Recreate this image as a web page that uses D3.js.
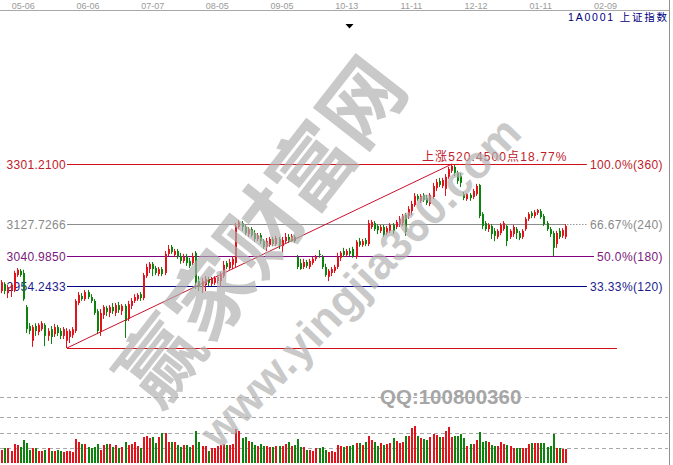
<!DOCTYPE html>
<html><head><meta charset="utf-8">
<script src="https://cdn.jsdelivr.net/npm/d3@7/dist/d3.min.js"></script>
<style>html,body{margin:0;padding:0;background:#fff;overflow:hidden}svg{display:block}</style>
</head><body>
<script>
// ---------- data ----------
const dateTicks = ["05-06","06-06","07-07","08-05","09-05","10-13","11-11","12-12","01-11","02-09"];
const tickIndex = [6,27,48,69,90,111,132,153,174,195];
// rows: [open, high, low, close]
const ohlc = [
[2942,2973,2936,2967],[2962,2967,2933,2942],[2936,2959,2922,2953],[2942,2965,2925,2959],[2945,2999,2939,2993],
[2987,3007,2982,3002],[2999,3004,2982,2987],[2993,3002,2914,2919],[2897,2902,2823,2834],[2843,2851,2820,2829],
[2801,2846,2784,2840],[2843,2851,2815,2829],[2826,2851,2817,2846],[2834,2857,2829,2851],[2846,2851,2786,2815],
[2815,2837,2801,2829],[2834,2843,2792,2812],[2820,2849,2812,2840],[2840,2846,2815,2823],[2829,2837,2806,2815],
[2815,2840,2806,2834],[2801,2837,2780.76,2829],[2812,2834,2795,2829],[2817,2840,2809,2834],[2829,2919,2823,2914],
[2908,2939,2902,2931],[2928,2936,2914,2919],[2919,2945,2914,2939],[2939,2945,2919,2925],[2925,2933,2908,2914],
[2914,2919,2874,2880],[2885,2891,2820,2829],[2829,2891,2815,2880],[2874,2902,2863,2897],[2894,2900,2871,2883],
[2880,2902,2868,2897],[2897,2908,2877,2885],[2880,2908,2871,2902],[2902,2911,2880,2888],[2885,2905,2874,2900],
[2900,2905,2809,2857],[2863,2914,2857,2905],[2900,2922,2891,2914],[2914,2933,2908,2925],[2919,2936,2914,2931],
[2933,2939,2914,2922],[2922,2993,2916,2987],[2984,3019,2979,3010],[3004,3024,2993,3019],[3019,3024,2984,3004],
[3007,3013,2987,2993],[2990,3010,2984,3004],[3004,3010,2984,2990],[2993,3055,2987,3047],[3047,3072,3041,3061],
[3067,3072,3047,3052],[3044,3061,3038,3055],[3055,3061,3033,3038],[3041,3050,3019,3027],[3027,3047,3021,3038],
[3041,3047,3013,3021],[3027,3036,3007,3013],[3021,3050,3016,3041],[3050,3055,2948,2965],[2970,2984,2942,2953],
[2953,2979,2936,2970],[2959,2984,2942,2976],[2976,2982,2956,2965],[2962,2982,2956,2976],[2965,2984,2959,2979],
[2970,2987,2962,2982],[2970,2996,2953,2987],[2984,3027,2979,3016],[3021,3027,3004,3010],[3007,3033,3002,3024],
[3016,3041,3004,3033],[3021,3134,3010,3126],[3123,3143,3117,3137],[3134,3140,3112,3123],[3123,3129,3100,3106],
[3103,3123,3095,3117],[3117,3123,3095,3100],[3106,3114,3081,3089],[3089,3106,3083,3100],[3100,3106,3075,3083],
[3083,3089,3061,3067],[3067,3092,3055,3083],[3072,3095,3067,3089],[3089,3095,3069,3075],[3075,3098,3069,3092],
[3089,3095,3061,3072],[3069,3095,3052,3086],[3083,3106,3078,3095],[3095,3103,3078,3083],[3083,3103,3081,3098],
[3095,3100,3078,3083],[3038,3044,3004,3010],[3021,3033,3002,3004],[3010,3033,3004,3024],[3024,3030,3007,3013],
[3010,3033,3004,3027],[3021,3038,3016,3033],[3033,3044,3027,3038],[3047,3058,3036,3044],[3038,3044,3004,3010],
[3010,3019,2982,2987],[2982,3004,2970,2999],[2993,3010,2984,3004],[2999,3016,2993,3010],[3010,3050,3004,3038],
[3036,3055,3027,3050],[3055,3064,3038,3044],[3044,3061,3038,3055],[3055,3064,3041,3047],[3061,3067,3036,3041],
[3038,3086,3033,3081],[3083,3092,3067,3072],[3072,3089,3067,3083],[3086,3092,3069,3075],[3075,3143,3069,3134],
[3123,3143,3117,3137],[3134,3140,3112,3117],[3126,3131,3103,3114],[3112,3129,3106,3123],[3123,3129,3095,3100],
[3106,3126,3100,3120],[3112,3134,3106,3129],[3129,3134,3103,3112],[3123,3143,3117,3137],[3131,3154,3123,3146],
[3134,3160,3126,3154],[3157,3163,3098,3109],[3154,3182,3146,3174],[3168,3197,3157,3188],[3185,3219,3180,3211],
[3211,3216,3197,3202],[3197,3216,3191,3211],[3214,3219,3194,3199],[3205,3214,3185,3191],[3188,3219,3182,3214],
[3208,3248,3202,3239],[3233,3259,3225,3250],[3253,3262,3236,3242],[3239,3262,3233,3256],[3231,3273,3211,3265],
[3265,3293,3259,3287],[3282,3301.21,3276,3296],[3293,3298,3267,3276],[3276,3282,3245,3253],[3267,3276,3236,3248],
[3216,3222,3199,3205],[3202,3219,3197,3216],[3214,3219,3197,3205],[3208,3231,3202,3225],[3216,3245,3211,3239],
[3242,3245,3148,3154],[3160,3165,3117,3126],[3134,3140,3112,3117],[3117,3134,3109,3129],[3126,3131,3089,3103],
[3112,3120,3083,3098],[3095,3117,3089,3112],[3106,3134,3100,3129],[3117,3140,3112,3134],[3126,3129,3069,3083],
[3095,3117,3089,3112],[3103,3129,3095,3123],[3117,3123,3089,3106],[3106,3112,3086,3092],[3095,3117,3089,3112],
[3117,3151,3112,3146],[3146,3165,3140,3160],[3163,3168,3148,3154],[3154,3171,3148,3165],[3163,3174,3157,3171],
[3168,3174,3146,3151],[3154,3160,3126,3131],[3134,3140,3112,3117],[3117,3123,3095,3103],[3106,3112,3041,3064],
[3075,3112,3064,3106],[3112,3120,3089,3095],[3098,3120,3092,3114],[3095,3131,3089,3126]
];
const volumes = [
13,15,15,12,19,18,16,23,20,13, 15,15,12,12,13,15,12,12,13,12,
11,12,12,11,24,21,19,19,16,15, 16,19,13,18,19,19,16,18,15,16,
21,18,19,21,17,15,26,27,25,26, 20,26,30,30,21,21,21,18,16,18,
18,16,18,32,21,17,17,12,15,15, 17,18,19,18,18,19,34,32,25,26,
22,21,18,17,19,17,17,16,16,17, 17,17,19,21,17,18,24,16,16,13,
13,12,15,15,16,13,11,12,11,18,
17,16,17,17,18,20,20,18,21,27, 23,21,17,20,18,19,20,25,22,20,
21,27,27,35,37,27,25,24,23,26, 29,28,26,26,32,36,26,27,27,29,
25,17,19,19,23,31,21,22,21,18, 17,17,21,19,18,17,15,15,15,15,
15,19,20,20,20,20,20,16,17,29, 15,15,14,14
];
const volGrid = [15,30,46,66];
const fibRatios = [1, 2/3, 1/2, 1/3];
const fibPctLabels = ["100.0%","66.67%","50.0%","33.33%"];
const fibCycles = ["(360)","(240)","(180)","(120)"];
const riseChange = "18.77%";
const title = "1A0001 上证指数";
const qqText = "QQ:100800360";
const wmBig = "赢家财富网";
const wmUrl = "www.yingjia360.com";

// ---------- chart ----------
const W = 673, H = 465;
const svg = d3.select("body").append("svg").attr("width", W).attr("height", H)
  .style("font-family", "'Liberation Sans', Arial, sans-serif");
const n = ohlc.length;
const x = d3.scaleLinear().domain([0, n - 1]).range([2.3, 566]);
const hi = d3.max(ohlc, d => d[1]), lo = d3.min(ohlc, d => d[2]);
const hiIdx = ohlc.findIndex(d => d[1] === hi), loIdx = ohlc.findIndex(d => d[2] === lo);
const y = d3.scaleLinear().domain([lo, hi]).range([348, 164]);
const yv = d3.scaleLinear().domain([0, 66]).range([463, 397]);
const RED = "rgb(224,20,28)", GREEN = "rgb(13,130,13)";
const px = i => Math.round(x(i));
const evenRow = v => 2 * Math.floor(v / 2);
const fmt4 = v => (Math.floor(v * 10000 + 1e-4) / 10000).toFixed(4);
function hrule(x1, x2, yy, color) {
  svg.append("rect").attr("x", Math.min(x1, x2)).attr("width", Math.abs(x2 - x1))
    .attr("y", Math.round(yy)).attr("height", 1).attr("fill", color);
}

// frame / top axis
hrule(0, 669, 10, "rgb(168,168,168)");
svg.append("rect").attr("x", 669).attr("y", 0).attr("width", 1).attr("height", H).attr("fill", "rgb(144,144,144)");
const ax = svg.append("g").attr("transform", "translate(2,9)")
  .call(d3.axisTop(x).tickValues(tickIndex).tickFormat((d, i) => dateTicks[i]).tickSize(0).tickPadding(0));
ax.select(".domain").remove();
ax.selectAll("text").attr("fill", "rgb(154,154,154)").style("font-size", "9px")
  .style("font-family", "'Liberation Sans', Arial, sans-serif");

svg.append("text").attr("x", 568).attr("y", 20.5)
  .attr("textLength", 99).attr("lengthAdjust", "spacing")
  .attr("fill", "rgb(0,0,128)").style("font-size", "10.5px")
  .style("font-family", "'Liberation Sans', 'Noto Sans CJK SC', sans-serif").text(title);
svg.append("path").attr("d", "M345.5,24 L353.5,24 L349.5,28.5 Z").attr("fill", "#000");

// volume grid (dashed)
volGrid.forEach(v => {
  const yy = Math.round(yv(v));
  for (let xx = 0; xx < 668; xx += 7) hrule(xx, Math.min(xx + 4, 668), yy, "rgb(168,168,168)");
});

// fib levels
const fibColors = [
  {line: "rgb(208,16,24)", text: "rgb(192,32,42)"},
  {line: "rgb(140,140,140)", text: "rgb(138,138,138)"},
  {line: "rgb(128,0,128)", text: "rgb(122,26,122)"},
  {line: "rgb(0,0,128)", text: "rgb(28,28,140)"}
];
const x0 = x(loIdx);
const xLast = x(n - 1);
fibRatios.forEach((r, k) => {
  const v = lo + (hi - lo) * r;
  const yy = evenRow(y(v));
  const c = fibColors[k];
  const rt = svg.append("text").attr("x", 663).attr("y", yy + 5).attr("text-anchor", "end")
    .attr("fill", c.text).style("font-size", "12px").style("letter-spacing", "0.4px")
    .text(fibPctLabels[k] + fibCycles[k]);
  const w = rt.node().getComputedTextLength();
  const xEnd = 663 - w - 3;
  if (k === 1) {
    hrule(x0, xLast, yy, c.line);
    for (let xx = xLast + 1; xx < xEnd; xx += 3) hrule(xx, Math.min(xx + 1.5, xEnd), yy, "rgb(150,150,150)");
  } else {
    hrule(x0, xEnd, yy, c.line);
  }
  svg.append("text").attr("x", x0 - 1).attr("y", yy + 5).attr("text-anchor", "end")
    .attr("fill", c.text).style("font-size", "12px").style("letter-spacing", "0.3px").text(fmt4(v));
});
// 0% base line
hrule(x0, 617, evenRow(y(lo)), "rgb(208,16,24)");
// rise label
svg.append("text").attr("x", 422).attr("y", 161).attr("fill", "rgb(192,32,42)")
  .style("font-size", "12px").style("letter-spacing", "1.1px")
  .style("font-family", "'Liberation Sans', 'Noto Sans CJK SC', sans-serif")
  .text("上涨" + (hi - lo).toFixed(4) + "点" + riseChange);

// candles
const cg = svg.append("g");
ohlc.forEach((d, i) => {
  const up = d[3] >= d[0];
  const col = up ? RED : GREEN;
  const xc = px(i);
  cg.append("rect").attr("x", xc - 1).attr("width", 1)
    .attr("y", y(d[1])).attr("height", Math.max(1, y(d[2]) - y(d[1]))).attr("fill", col);
  const top = y(Math.max(d[0], d[3])), bot = y(Math.min(d[0], d[3]));
  cg.append("rect").attr("x", xc - 1).attr("width", 2)
    .attr("y", top).attr("height", Math.max(1, bot - top)).attr("fill", col);
});
// diagonal
svg.append("line").attr("x1", x(loIdx)).attr("y1", y(lo)).attr("x2", x(hiIdx)).attr("y2", y(hi))
  .attr("stroke", "rgb(200,16,42)").attr("stroke-width", 1);

// volume bars
svg.append("g").selectAll("rect").data(volumes).join("rect")
  .attr("x", (v, i) => px(i) - 1).attr("width", 2)
  .attr("y", v => yv(v)).attr("height", v => yv(0) - yv(v))
  .attr("fill", (v, i) => ohlc[i][3] >= ohlc[i][0] ? RED : GREEN);

// watermark & qq
svg.append("text").attr("transform", "translate(262,232) rotate(-52)").attr("text-anchor", "middle")
  .attr("fill", "rgb(176,176,176)").attr("opacity", 0.68).style("font-size", "82px").style("font-weight", "bold")
  .style("font-family", "'Noto Sans CJK SC', sans-serif").attr("dy", "0.35em").text(wmBig);
svg.append("text").attr("transform", "translate(360,282) rotate(-46)").attr("text-anchor", "middle")
  .attr("fill", "rgb(176,176,176)").attr("opacity", 0.68).style("font-size", "45px").style("font-weight", "bold")
  .style("font-family", "'Liberation Sans', Arial, sans-serif").attr("dy", "0.35em").text(wmUrl);
svg.append("text").attr("x", 380).attr("y", 404).attr("fill", "rgb(166,166,166)")
  .style("font-size", "20.5px").style("font-weight", "bold").text(qqText);
</script>
</body></html>
